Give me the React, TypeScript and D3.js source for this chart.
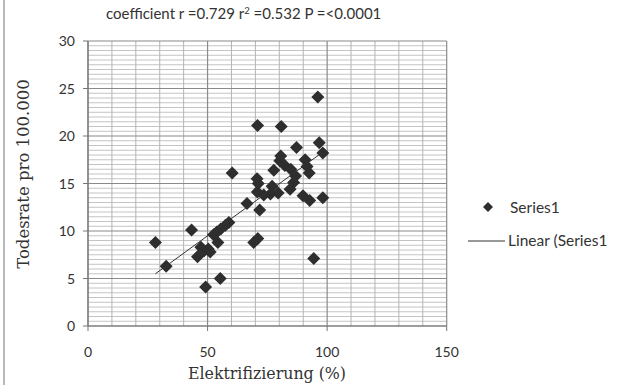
import React from "react";
import * as d3 from "d3";

const xLabel = "Elektrifizierung (%)";
const yLabel = "Todesrate pro 100.000";
const seriesName = "Series1";
const trendName = "Linear (Series1";

const xTicks = [0, 50, 100, 150];
const yTicks = [0, 5, 10, 15, 20, 25, 30];

const elektrifizierung = [
  96.1, 70.9, 80.8, 96.7, 87.2, 98.2, 80.6, 80.2, 90.8, 91.6,
  82.3, 77.7, 84.8, 60.3, 92.5, 86.8, 70.7, 71.2, 86.0, 77.0,
  84.5, 70.8, 76.3, 79.5, 89.9, 92.7, 98.2, 66.5, 71.8, 58.9,
  57.5, 55.5, 53.9, 43.3, 52.5, 28.2, 71.0, 69.3, 54.3, 47.2,
  50.3, 48.5, 45.8, 94.4, 32.7, 55.3, 49.2, 73.5, 51.1,
];
const todesrate = [
  24.1, 21.1, 21.0, 19.3, 18.8, 18.2, 17.9, 17.4, 17.5, 16.8,
  16.9, 16.4, 16.5, 16.1, 16.1, 15.8, 15.5, 15.0, 15.1, 14.7,
  14.4, 14.1, 13.9, 14.0, 13.7, 13.2, 13.5, 12.9, 12.2, 10.9,
  10.6, 10.2, 9.9, 10.1, 9.6, 8.8, 9.2, 8.8, 8.8, 8.3,
  8.1, 7.9, 7.3, 7.1, 6.3, 5.0, 4.1, 13.8, 7.8,
];

// trend line
const trendSlope = 0.183;
const trendIntercept = 0.34;

export default function App() {
  const W = 640, H = 385;
  const left = 88, right = 446.7, top = 41, bottom = 326;
  const x = d3.scaleLinear().domain([0, 150]).range([left, right]);
  const y = d3.scaleLinear().domain([0, 30]).range([bottom, top]);

  const minorY = d3.range(0, 30.001, 0.5).filter((v) => Math.abs(v % 5) > 1e-6);
  const minorX = d3.range(0, 150.001, 10).filter((v) => v % 50 !== 0);

  const diamond = (cx: number, cy: number, r: number) =>
    `M${cx},${cy - r}L${cx + r},${cy}L${cx},${cy + r}L${cx - r},${cy}Z`;

  const xMin = d3.min(elektrifizierung) as number;
  const xMax = d3.max(elektrifizierung) as number;
  const line = d3.line<number>().x((d) => x(d)).y((d) => y(trendSlope * d + trendIntercept));

  const sans = "Lato, 'Open Sans', sans-serif";
  const serif = "'DejaVu Serif', 'Liberation Serif', serif";

  return (
    <svg width={W} height={H} style={{ position: "absolute", left: 0, top: 0, background: "#fff" }}>
      <rect x={0} y={0} width={W} height={H} fill="#fff" />
      <line x1={4} x2={4} y1={0} y2={H} stroke="#888" strokeWidth={1.2} />
      <text x={106} y={19} fontFamily={sans} fontSize={15} fill="#333">
        coefficient r =0.729 r<tspan dy={-5} fontSize={9.5}>2</tspan>
        <tspan dy={5}> =0.532 P =&lt;0.0001</tspan>
      </text>
      {minorY.map((v) => (
        <line key={"my" + v} x1={left} x2={right} y1={y(v)} y2={y(v)} stroke="#c4c4c4" strokeWidth={1} />
      ))}
      {minorX.map((v) => (
        <line key={"mx" + v} x1={x(v)} x2={x(v)} y1={top} y2={bottom} stroke="#b4b4b4" strokeWidth={1} />
      ))}
      {yTicks.map((v) => (
        <line key={"gy" + v} x1={left} x2={right} y1={y(v)} y2={y(v)} stroke="#8a8a8a" strokeWidth={1.2} />
      ))}
      {xTicks.map((v) => (
        <line key={"gx" + v} x1={x(v)} x2={x(v)} y1={top} y2={bottom} stroke="#8a8a8a" strokeWidth={1.2} />
      ))}
      <line x1={left} x2={left} y1={top} y2={bottom} stroke="#777" strokeWidth={1.2} />
      <line x1={left} x2={right} y1={bottom} y2={bottom} stroke="#777" strokeWidth={1.2} />
      {yTicks.map((v) => (
        <g key={"ty" + v}>
          <line x1={left - 5} x2={left} y1={y(v)} y2={y(v)} stroke="#777" />
          <text x={75} y={y(v) + 5} textAnchor="end" fontFamily={sans} fontSize={14} fill="#333">{v}</text>
        </g>
      ))}
      {xTicks.map((v) => (
        <g key={"tx" + v}>
          <line x1={x(v)} x2={x(v)} y1={bottom} y2={bottom + 5} stroke="#777" />
          <text x={x(v)} y={357} textAnchor="middle" fontFamily={sans} fontSize={14} fill="#333">{v}</text>
        </g>
      ))}
      {elektrifizierung.map((v, i) => (
        <path key={"p" + i} d={diamond(x(v), y(todesrate[i]), 6.5)} fill="#2e2e2e" />
      ))}
      <path d={line([xMin, xMax]) || ""} stroke="#333" strokeWidth={1} fill="none" />
      <text x={267} y={379} textAnchor="middle" fontFamily={serif} fontSize={15.8} fill="#333">{xLabel}</text>
      <text transform="translate(29,174) rotate(-90)" textAnchor="middle" fontFamily={serif} fontSize={16.5} fill="#333">{yLabel}</text>
      <path d={diamond(488, 207, 5)} fill="#2e2e2e" />
      <text x={510} y={213} fontFamily={sans} fontSize={15.5} fill="#333">{seriesName}</text>
      <line x1={468} x2={505} y1={241} y2={241} stroke="#333" strokeWidth={1} />
      <text x={508} y={246} fontFamily={sans} fontSize={15.5} fill="#333">{trendName}</text>
    </svg>
  );
}
